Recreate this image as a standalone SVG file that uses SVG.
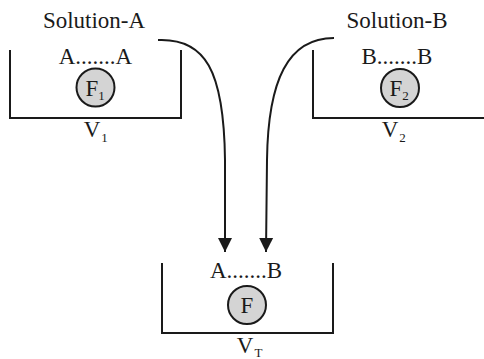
<svg xmlns="http://www.w3.org/2000/svg" width="484" height="359" viewBox="0 0 484 359">
<style>
text{font-family:"Liberation Serif","Times New Roman","DejaVu Serif",serif;fill:#1a1a1a}
.lbl{font-size:23px}
.sub{font-size:13px}
.box{fill:none;stroke:#1a1a1a;stroke-width:2}
.circ{fill:#d4d4d4;stroke:#1a1a1a;stroke-width:2}
.conn{fill:none;stroke:#1a1a1a;stroke-width:2}
</style>
<defs>
<marker id="ah" viewBox="0 0 10 10" refX="10" refY="5" markerWidth="7" markerHeight="8" markerUnits="strokeWidth" orient="auto">
<path d="M0,0 L10,5 L0,10 z" fill="#1a1a1a"/>
</marker>
</defs>
<g id="vessel1">
<text class="lbl" x="94" y="28" text-anchor="middle">Solution-A</text>
<path class="box" d="M10,50 V118 H181 V50"/>
<text class="lbl" x="95.5" y="64" text-anchor="middle">A.......A</text>
<circle class="circ" cx="95.5" cy="87.5" r="19"/>
<text class="lbl" x="92" y="96" text-anchor="middle">F</text>
<text class="sub" x="101.5" y="100" text-anchor="middle">1</text>
<text class="lbl" x="92" y="137" text-anchor="middle">V</text>
<text class="sub" x="104.5" y="142" text-anchor="middle">1</text>
</g>
<g id="vessel2">
<text class="lbl" x="397" y="28" text-anchor="middle">Solution-B</text>
<path class="box" d="M313,50 V118 H484"/>
<text class="lbl" x="397" y="64" text-anchor="middle">B.......B</text>
<circle class="circ" cx="400" cy="88" r="19"/>
<text class="lbl" x="396" y="96" text-anchor="middle">F</text>
<text class="sub" x="405.5" y="100" text-anchor="middle">2</text>
<text class="lbl" x="390" y="137" text-anchor="middle">V</text>
<text class="sub" x="402.5" y="142" text-anchor="middle">2</text>
</g>
<g id="vesselT">
<path class="box" d="M162,263 V333 H333 V263"/>
<text class="lbl" x="246" y="278" text-anchor="middle">A.......B</text>
<circle class="circ" cx="247" cy="305" r="19"/>
<text class="lbl" x="247" y="313" text-anchor="middle">F</text>
<text class="lbl" x="245" y="353" text-anchor="middle">V</text>
<text class="sub" x="258.5" y="357" text-anchor="middle">T</text>
</g>
<g id="connectors">
<path class="conn" d="M158,40 C205,38 224,70 225,160 L225,252" marker-end="url(#ah)"/>
<path class="conn" d="M334,38 C288,38 268,80 267,160 L266,252" marker-end="url(#ah)"/>
</g>
</svg>
